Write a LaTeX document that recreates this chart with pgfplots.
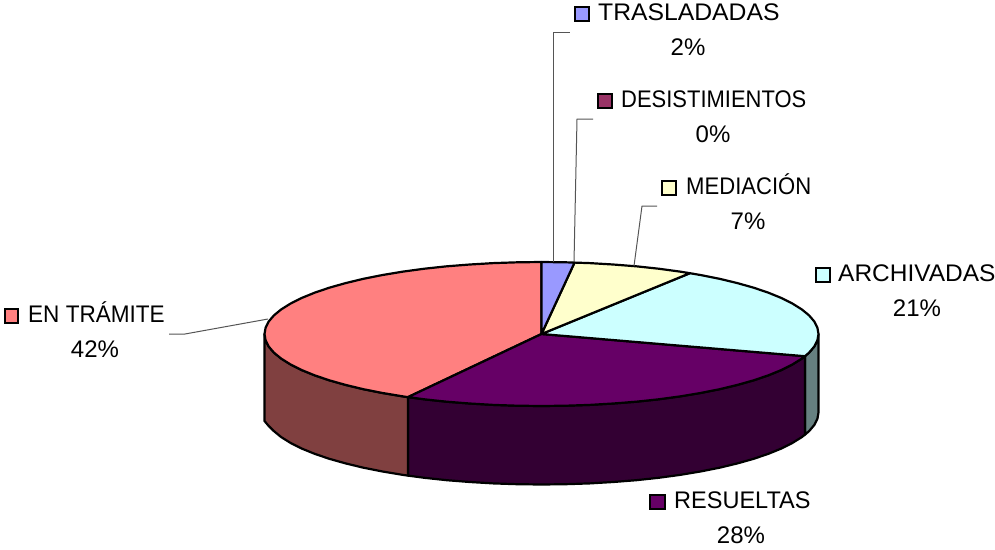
\documentclass[border=0pt]{standalone}
\usepackage{pgfplots}
\pgfplotsset{compat=1.18}
\usepackage{fontspec}
\setmainfont{Liberation Sans}
\definecolor{cTramite}{HTML}{FF8080}
\definecolor{cTramiteS}{HTML}{804040}
\definecolor{cResueltas}{HTML}{660066}
\definecolor{cResueltasS}{HTML}{330033}
\definecolor{cArchivadas}{HTML}{CCFFFF}
\definecolor{cArchivadasS}{HTML}{668080}
\definecolor{cMediacion}{HTML}{FFFFCC}
\definecolor{cDesist}{HTML}{993366}
\definecolor{cTrasl}{HTML}{9999FF}
\definecolor{cLeader}{HTML}{555555}
\tikzset{
  lab/.style={anchor=base west,inner sep=0pt,font=\fontsize{24}{26}\selectfont,text=black},
  pct/.style={anchor=base,inner sep=0pt,font=\fontsize{24}{26}\selectfont,text=black},
}
\pgfplotsset{
  slice/.style={draw=black,line width=2.2pt,line join=round},
  key/.style={draw=black,line width=2pt,line join=miter},
  leader/.style={draw=cLeader,line width=1pt,line join=miter},
}
\begin{document}
\begin{tikzpicture}
\useasboundingbox (0,0) rectangle (995pt,549pt);
\begin{axis}[
    at={(0,0)},anchor=south west,
    width=995pt,height=549pt,scale only axis,
    xmin=0,xmax=995,ymin=0,ymax=549,
    y dir=reverse,
    hide axis,clip=false,
]
% side walls
\addplot[slice,fill=cArchivadasS] coordinates {
 (818.5,334) (817.4,340.3) (814.3,346.5) (809.1,352.6) (804.9,356.2)
 (804.9,434.7) (809.1,431.1) (814.3,425) (817.4,418.8) (818.5,412.5)} --cycle;
\addplot[slice,fill=cResueltasS] coordinates {
 (804.9,356.2) (801.8,358.6) (792.5,364.4) (781.4,370) (768.4,375.3) (753.7,380.3) (737.4,384.9)
 (719.6,389.2) (700.4,393) (680,396.4) (658.6,399.3) (636.2,401.7) (613.2,403.5) (589.6,404.9)
 (565.6,405.7) (541.5,406) (517.4,405.7) (493.4,404.9) (469.8,403.5) (446.8,401.7) (424.4,399.3) (408,397.1)
 (408,475.6) (424.4,477.8) (446.8,480.2) (469.8,482) (493.4,483.4) (517.4,484.2) (541.5,484.5)
 (565.6,484.2) (589.6,483.4) (613.2,482) (636.2,480.2) (658.6,477.8) (680,474.9) (700.4,471.5)
 (719.6,467.7) (737.4,463.4) (753.7,458.8) (768.4,453.8) (781.4,448.5) (792.5,442.9) (801.8,437.1) (804.9,434.7)} --cycle;
\addplot[slice,fill=cTramiteS] coordinates {
 (408,397.1) (403,396.4) (382.6,393) (363.4,389.2) (345.6,384.9) (329.3,380.3) (314.6,375.3) (301.6,370)
 (290.5,364.4) (281.2,358.6) (273.9,352.6) (268.7,346.5) (265.6,340.3) (264.5,334)
 (264.5,421) (268.7,426) (273.9,431.1) (281.2,437.1) (290.5,442.9) (301.6,448.5)
 (314.6,453.8) (329.3,458.8) (345.6,463.4) (363.4,467.7) (382.6,471.5) (403,474.9) (408,475.6)} --cycle;
% top slices
\addplot[slice,fill=cTramite] coordinates {
 (541.5,334) (408,397.1) (403,396.4) (382.6,393) (363.4,389.2) (345.6,384.9) (329.3,380.3) (314.6,375.3)
 (301.6,370) (290.5,364.4) (281.2,358.6) (273.9,352.6) (268.7,346.5) (265.6,340.3) (264.5,334)
 (265.6,327.7) (268.7,321.5) (273.9,315.4) (281.2,309.4) (290.5,303.6) (301.6,298) (314.6,292.7)
 (329.3,287.7) (345.6,283.1) (363.4,278.8) (382.6,275) (403,271.6) (424.4,268.7) (446.8,266.3)
 (469.8,264.5) (493.4,263.1) (517.4,262.3) (541.5,262)} --cycle;
\addplot[slice,fill=cResueltas] coordinates {
 (541.5,334) (804.9,356.2) (801.8,358.6) (792.5,364.4) (781.4,370) (768.4,375.3) (753.7,380.3) (737.4,384.9)
 (719.6,389.2) (700.4,393) (680,396.4) (658.6,399.3) (636.2,401.7) (613.2,403.5) (589.6,404.9)
 (565.6,405.7) (541.5,406) (517.4,405.7) (493.4,404.9) (469.8,403.5) (446.8,401.7) (424.4,399.3) (408,397.1)} --cycle;
\addplot[slice,fill=cArchivadas] coordinates {
 (541.5,334) (689.9,273.2) (700.4,275) (719.6,278.8) (737.4,283.1) (753.7,287.7) (768.4,292.7) (781.4,298)
 (792.5,303.6) (801.8,309.4) (809.1,315.4) (814.3,321.5) (817.4,327.7) (818.5,334) (817.4,340.3)
 (814.3,346.5) (809.1,352.6) (804.9,356.2)} --cycle;
\addplot[slice,fill=cMediacion] coordinates {
 (541.5,334) (574.5,262.6) (589.6,263.1) (613.2,264.5) (636.2,266.3) (658.6,268.7) (680,271.6) (689.9,273.2)} --cycle;
\addplot[slice,fill=cTrasl] coordinates {
 (541.5,334) (541.5,262) (565.6,262.3) (574.5,262.6)} --cycle;
% leader lines
\addplot[leader] coordinates {(553,262) (553,32) (570,32)};
\addplot[leader] coordinates {(574,262) (577,119) (593,119)};
\addplot[leader] coordinates {(634,266) (642,206) (657,206)};
\addplot[leader] coordinates {(268,319) (185,334) (169,334)};
% legend keys
\addplot[key,fill=cTrasl] coordinates {(574.5,6.5) (588.5,6.5) (588.5,21) (574.5,21)} --cycle;
\addplot[key,fill=cDesist] coordinates {(597.5,93.5) (611.5,93.5) (611.5,107.5) (597.5,107.5)} --cycle;
\addplot[key,fill=cMediacion] coordinates {(661.5,180.5) (675.5,180.5) (675.5,194.5) (661.5,194.5)} --cycle;
\addplot[key,fill=cArchivadas] coordinates {(815.5,267.5) (829.5,267.5) (829.5,281.5) (815.5,281.5)} --cycle;
\addplot[key,fill=cTramite] coordinates {(4.5,308.5) (18,308.5) (18,323) (4.5,323)} --cycle;
\addplot[key,fill=cResueltas] coordinates {(650,494.5) (664.5,494.5) (664.5,508.5) (650,508.5)} --cycle;
% labels
\node[lab,xscale=1.03] at (axis cs:598,20.5) {TRASLADADAS};
\node[pct] at (axis cs:688,55) {2\%};
\node[lab,xscale=0.915] at (axis cs:621,107.5) {DESISTIMIENTOS};
\node[pct] at (axis cs:713,142) {0\%};
\node[lab,xscale=0.92] at (axis cs:686,194) {MEDIACIÓN};
\node[pct] at (axis cs:748,229) {7\%};
\node[lab,xscale=1.02] at (axis cs:838,281.5) {ARCHIVADAS};
\node[pct] at (axis cs:917,316) {21\%};
\node[lab,xscale=0.94] at (axis cs:28,322.5) {EN TRÁMITE};
\node[pct] at (axis cs:95,357) {42\%};
\node[lab,xscale=0.98] at (axis cs:674,508) {RESUELTAS};
\node[pct] at (axis cs:741,543) {28\%};
\end{axis}
\end{tikzpicture}
\end{document}
